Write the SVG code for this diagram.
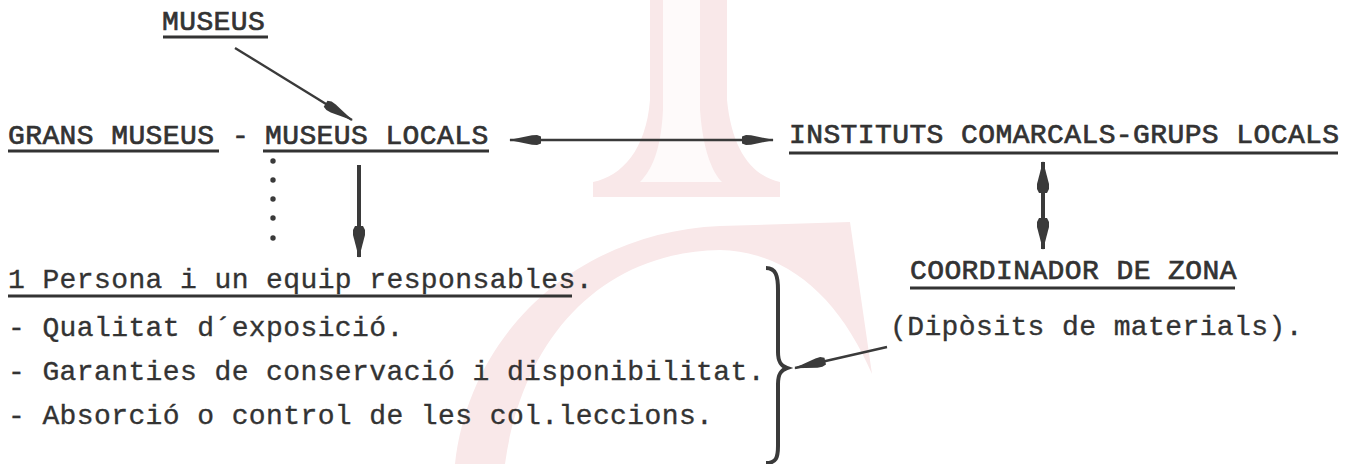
<svg xmlns="http://www.w3.org/2000/svg" width="1354" height="464" viewBox="0 0 1354 464">
<style>
  .t{font-family:"Liberation Mono","Courier New",monospace;font-size:28px;letter-spacing:0.4px;fill:#333333;stroke:#333333;stroke-width:0.35px}
  .h{stroke-width:0.7px}
  .u{stroke:#333333;stroke-width:2.8;fill:none}
  .c{stroke:#3a3a3a;stroke-width:2.4;fill:none}
  .cb{stroke:#3a3a3a;stroke-width:4;fill:none}
  .wm{fill:#f9e8e9}
</style>
<defs>
  <marker id="ah" viewBox="-33 -6 34 12" refX="0" refY="0" markerWidth="34" markerHeight="12" markerUnits="userSpaceOnUse" orient="auto-start-reverse">
    <path d="M1,0 L-22,-4.8 L-27,-5 L-31,-3.5 L-31,3.5 L-27,5 L-22,4.8 Z" fill="#3a3a3a"/>
  </marker>
  <marker id="ahb" viewBox="-33 -7 34 14" refX="0" refY="0" markerWidth="34" markerHeight="14" markerUnits="userSpaceOnUse" orient="auto-start-reverse">
    <path d="M1,0 L-22,-6 L-27,-6 L-31,-4 L-31,4 L-27,6 L-22,6 Z" fill="#3a3a3a"/>
  </marker>
</defs>
<rect width="1354" height="464" fill="#ffffff"/>
<g id="watermark">
  <path class="wm" d="M650,0 L727,0 L727,100 C732,150 752,176 780,182 L780,197 L593,197 L593,182 C622,176 646,150 650,100 Z"/>
  <path fill="#fefafa" d="M663,0 L700,0 L700,110 C703,150 712,172 722,182 L640,182 C652,170 661,150 663,110 Z"/>
  <path class="wm" d="M455,464 C470,330 580,232 720,226 L850,222 L872,374 C840,300 790,252 720,250 C600,252 522,340 505,464 Z"/>
</g>
<g id="connectors">
  <line class="c" x1="235" y1="48" x2="352" y2="120" marker-end="url(#ah)"/>
  <line class="c" x1="510" y1="140" x2="773" y2="140" marker-start="url(#ah)" marker-end="url(#ah)"/>
  <line class="cb" x1="1043" y1="162" x2="1043" y2="249" marker-start="url(#ahb)" marker-end="url(#ahb)"/>
  <line class="cb" x1="359" y1="165" x2="359" y2="257" marker-end="url(#ahb)"/>
  <line class="c" x1="887" y1="347" x2="795" y2="368" marker-end="url(#ah)"/>
  <g id="dots" fill="#3a3a3a">
    <circle cx="273" cy="161" r="2.7"/>
    <circle cx="273" cy="180" r="2.7"/>
    <circle cx="273" cy="199" r="2.7"/>
    <circle cx="273" cy="218" r="2.7"/>
    <circle cx="273" cy="238" r="2.7"/>
  </g>
</g>
<g id="museus">
  <text class="t h" x="162" y="30">MUSEUS</text>
  <line class="u" x1="163" y1="37" x2="268" y2="37"/>
</g>
<g id="grans-museus">
  <text class="t h" x="8" y="144">GRANS MUSEUS</text>
  <line class="u" x1="8" y1="151" x2="219" y2="151"/>
  <text class="t h" x="232" y="144">-</text>
</g>
<g id="museus-locals">
  <text class="t h" x="265" y="144">MUSEUS LOCALS</text>
  <line class="u" x1="263" y1="151" x2="489" y2="151"/>
</g>
<g id="instituts">
  <text class="t h" x="789" y="143">INSTITUTS COMARCALS-GRUPS LOCALS</text>
  <line class="u" x1="789" y1="153" x2="1338" y2="153"/>
</g>
<g id="coordinador">
  <text class="t h" x="910" y="279">COORDINADOR DE ZONA</text>
  <line class="u" x1="910" y1="288" x2="1235" y2="288"/>
  <text class="t" x="890" y="335">(Dipòsits de materials).</text>
</g>
<g id="persona">
  <text class="t" x="8" y="288">1 Persona i un equip responsables.</text>
  <line class="u" x1="8" y1="296" x2="572" y2="296"/>
  <text class="t" x="8" y="336">- Qualitat d´exposició.</text>
  <text class="t" x="8" y="380">- Garanties de conservació i disponibilitat.</text>
  <text class="t" x="8" y="424">- Absorció o control de les col.leccions.</text>
</g>
<g id="brace">
  <path class="cb" d="M766,268 C776,268 778,276 778,290 L778,352 C778,362 781,366 787,368 C781,370 778,374 778,384 L778,446 C778,458 776,463 766,463"/>
</g>
</svg>
